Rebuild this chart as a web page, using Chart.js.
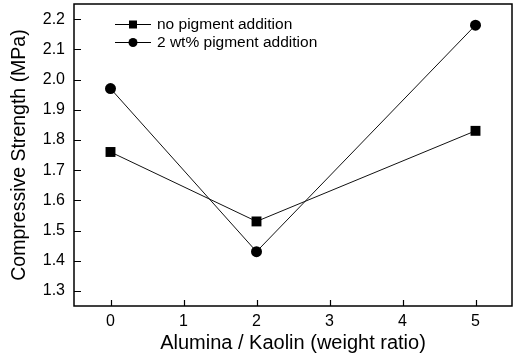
<!DOCTYPE html>
<html>
<head>
<meta charset="utf-8">
<script src="https://cdn.jsdelivr.net/npm/chart.js@4.4.0/dist/chart.umd.min.js"></script>
<style>
  html, body { margin: 0; padding: 0; background: #fff; }
  #wrap { width: 513px; height: 356px; }
</style>
</head>
<body>
<div id="wrap"><canvas id="chart"></canvas></div>
<script>
// data
const ratios = [0, 2, 5];
const noPigment = [1.76, 1.53, 1.83];
const withPigment = [1.97, 1.43, 2.18];
const xTicks = [0, 1, 2, 3, 4, 5];
const yTicks = [1.3, 1.4, 1.5, 1.6, 1.7, 1.8, 1.9, 2.0, 2.1, 2.2];
const seriesNames = ['no pigment addition', '2 wt% pigment addition'];

const fontFamily = "'Liberation Sans', Arial, sans-serif";

// frame with inward ticks + legend inside the plot
const framePlugin = {
    id: 'frame',
    afterDraw(chart) {
        const ctx = chart.ctx;
        const a = chart.chartArea;
        const xs = chart.scales.x, ys = chart.scales.y;
        ctx.save();
        ctx.strokeStyle = '#000';
        ctx.lineWidth = 1.5;
        ctx.strokeRect(a.left, a.top, a.right - a.left, a.bottom - a.top);
        ctx.lineWidth = 1.2;
        ctx.beginPath();
        xTicks.forEach(v => {
            const px = Math.round(xs.getPixelForValue(v)) + 0.5;
            ctx.moveTo(px, a.bottom);
            ctx.lineTo(px, a.bottom - 6);
        });
        yTicks.forEach(v => {
            const py = Math.round(ys.getPixelForValue(v)) + 0.5;
            ctx.moveTo(a.left, py);
            ctx.lineTo(a.left + 7, py);
        });
        ctx.stroke();

        // legend
        ctx.font = '15.5px ' + fontFamily;
        ctx.textBaseline = 'middle';
        ctx.fillStyle = '#000';
        const rows = [24, 42];
        rows.forEach((y, i) => {
            ctx.lineWidth = 1;
            ctx.beginPath();
            ctx.moveTo(115, y + 0.5);
            ctx.lineTo(151, y + 0.5);
            ctx.stroke();
            ctx.beginPath();
            if (i === 0) ctx.rect(129, y - 3.5, 8, 8);
            else ctx.arc(133, y + 0.5, 4.5, 0, Math.PI * 2);
            ctx.fill();
            ctx.fillText(seriesNames[i], 157, y + 1);
        });
        ctx.restore();
    }
};

new Chart(document.getElementById('chart'), {
    type: 'line',
    data: {
        datasets: [
            {
                label: seriesNames[0],
                data: ratios.map((x, i) => ({ x: x, y: noPigment[i] })),
                borderColor: '#111',
                backgroundColor: '#000',
                borderWidth: 1,
                pointStyle: 'rect',
                pointRadius: 7,
                pointBorderWidth: 0
            },
            {
                label: seriesNames[1],
                data: ratios.map((x, i) => ({ x: x, y: withPigment[i] })),
                borderColor: '#111',
                backgroundColor: '#000',
                borderWidth: 1,
                pointStyle: 'circle',
                pointRadius: 5.5,
                pointBorderWidth: 0
            }
        ]
    },
    options: {
        responsive: true,
        maintainAspectRatio: false,
        animation: false,
        layout: { autoPadding: false, padding: { top: 4, right: 1, left: 0, bottom: 0 } },
        plugins: {
            legend: { display: false },
            tooltip: { enabled: false }
        },
        scales: {
            x: {
                type: 'linear',
                min: -0.5,
                max: 5.5,
                afterBuildTicks: s => { s.ticks = xTicks.map(v => ({ value: v })); },
                afterFit: s => { s.height = 50; s.paddingLeft = 0; s.paddingRight = 0; },
                grid: { display: false, drawTicks: false },
                border: { display: false },
                ticks: {
                    padding: 6,
                    color: '#000',
                    font: { size: 16, family: fontFamily }
                },
                title: {
                    display: true,
                    text: 'Alumina / Kaolin (weight ratio)',
                    color: '#000',
                    font: { size: 20, family: fontFamily },
                    padding: { top: 0, bottom: 1 }
                }
            },
            y: {
                min: 1.25,
                max: 2.25,
                afterBuildTicks: s => { s.ticks = yTicks.map(v => ({ value: v })); },
                afterFit: s => { s.width = 74; s.paddingTop = 0; s.paddingBottom = 0; },
                grid: { display: false, drawTicks: false },
                border: { display: false },
                ticks: {
                    padding: 9,
                    color: '#000',
                    font: { size: 16, family: fontFamily },
                    callback: v => v.toFixed(1)
                },
                title: {
                    display: true,
                    text: 'Compressive Strength (MPa)',
                    color: '#000',
                    font: { size: 19.5, family: fontFamily },
                    padding: { top: 8, bottom: 0 }
                }
            }
        }
    },
    plugins: [framePlugin]
});
</script>
</body>
</html>
